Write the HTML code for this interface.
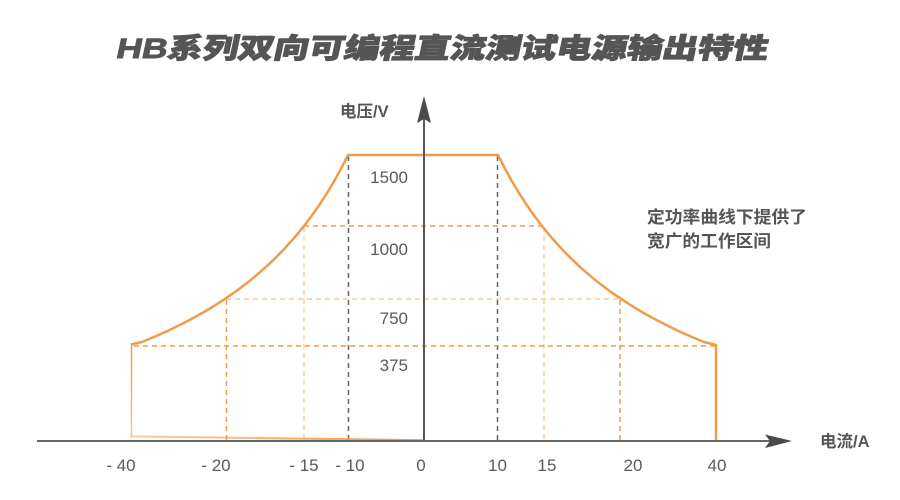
<!DOCTYPE html>
<html>
<head>
<meta charset="utf-8">
<style>
html,body{margin:0;padding:0;background:#fff;}
svg{display:block;}
</style>
</head>
<body>
<svg width="900" height="500" viewBox="0 0 900 500" xmlns="http://www.w3.org/2000/svg">
  <defs>
    <linearGradient id="bot" x1="131" y1="0" x2="424" y2="0" gradientUnits="userSpaceOnUse">
      <stop offset="0" stop-color="#F29A4A" stop-opacity="0.55"/>
      <stop offset="1" stop-color="#F29A4A" stop-opacity="1"/>
    </linearGradient>
    <linearGradient id="lv" x1="0" y1="344" x2="0" y2="436" gradientUnits="userSpaceOnUse">
      <stop offset="0" stop-color="#F29A4A" stop-opacity="1"/>
      <stop offset="1" stop-color="#F29A4A" stop-opacity="0.6"/>
    </linearGradient>
  </defs>

  <!-- Title -->
  <g transform="translate(115,58) skewX(-12)">
    <text x="0" y="0" font-family="'Liberation Sans','Noto Sans CJK SC',sans-serif" font-weight="900" font-size="28" fill="#555" stroke="#555" stroke-width="0.9" stroke-linejoin="round" textLength="652" lengthAdjust="spacingAndGlyphs">HB系列双向可编程直流测试电源输出特性</text>
  </g>

  <!-- dashed guide lines -->
  <g fill="none" stroke-width="1.5">
    <line x1="348.5" y1="156" x2="348.5" y2="440" stroke="#666" stroke-dasharray="5,4"/>
    <line x1="497.5" y1="156" x2="497.5" y2="440" stroke="#666" stroke-dasharray="5,4"/>
    <line x1="304" y1="226" x2="544" y2="226" stroke="#F29A4A" stroke-dasharray="5,4"/>
    <line x1="304" y1="227" x2="304" y2="440" stroke="#F9CDA5" stroke-dasharray="5,4"/>
    <line x1="544" y1="227" x2="544" y2="440" stroke="#F9CDA5" stroke-dasharray="5,4"/>
    <line x1="226" y1="299" x2="620" y2="299" stroke="#F9C9A0" stroke-dasharray="5,4"/>
    <line x1="226.5" y1="300" x2="226.5" y2="440" stroke="#F29A4A" stroke-dasharray="5,4"/>
    <line x1="620" y1="300" x2="620" y2="440" stroke="#F29A4A" stroke-dasharray="5,4"/>
    <line x1="134" y1="346" x2="716" y2="346" stroke="#F29A4A" stroke-dasharray="5,4"/>
  </g>

  <!-- main curve -->
  <polyline points="131,344.5 142,342 154,337 167,331.2 179,325.4 192,318.7 204,312 214,306 226,298.2 234,292.7 244,285.3 254,277.3 264,268.7 274,259.4 284,249.2 294,238.2 304,226 312,215.4 319,205.4 327,193.1 334,181.4 341,168.7 348,155 498,155 505,168.7 512,181.4 519,193.1 527,205.4 534,215.4 542,226 552,238.2 562,249.2 572,259.4 582,268.7 592,277.3 602,285.3 612,292.7 620,298.2 632,306 642,312 654,318.7 667,325.4 679,331.2 692,337 704,342 716,345 716,441" fill="none" stroke="#F29A4A" stroke-width="2.5" stroke-linejoin="round"/>
  <line x1="131.5" y1="344" x2="131.5" y2="437" stroke="url(#lv)" stroke-width="1.5"/>
  <polygon points="131,435.5 424,439.2 424,441.5 131,437.2" fill="url(#bot)"/>

  <!-- axes -->
  <line x1="37" y1="441" x2="770" y2="441" stroke="#666" stroke-width="2"/>
  <polygon points="792,441 765,434.5 770,441 765,448" fill="#4a4a4a"/>
  <line x1="424" y1="441" x2="424" y2="118" stroke="#555" stroke-width="2"/>
  <polygon points="424,96 417,123 424,119 431,123" fill="#4a4a4a"/>

  <!-- axis labels -->
  <text x="340" y="117" font-family="'Liberation Sans','Noto Sans CJK SC',sans-serif" font-weight="700" font-size="16.5" fill="#555">电压/V</text>
  <text x="820" y="447" font-family="'Liberation Sans','Noto Sans CJK SC',sans-serif" font-weight="700" font-size="16.5" fill="#555">电流/A</text>

  <!-- annotation -->
  <text x="647" y="223" font-family="'Liberation Sans','Noto Sans CJK SC',sans-serif" font-weight="700" font-size="17" fill="#555" textLength="160" lengthAdjust="spacingAndGlyphs">定功率曲线下提供了</text>
  <text x="647" y="247" font-family="'Liberation Sans','Noto Sans CJK SC',sans-serif" font-weight="700" font-size="17" fill="#555" textLength="124" lengthAdjust="spacingAndGlyphs">宽广的工作区间</text>

  <!-- y tick labels -->
  <g font-family="'Liberation Sans','DejaVu Sans',sans-serif" font-size="17" fill="#5a5a5a" text-anchor="end">
    <text x="408" y="183">1500</text>
    <text x="408" y="255">1000</text>
    <text x="408" y="324">750</text>
    <text x="408" y="371">375</text>
  </g>

  <!-- x tick labels -->
  <g font-family="'Liberation Sans','DejaVu Sans',sans-serif" font-size="17" fill="#5a5a5a" text-anchor="middle">
    <text x="121" y="471">- 40</text>
    <text x="216" y="471">- 20</text>
    <text x="304" y="471">- 15</text>
    <text x="350" y="471">- 10</text>
    <text x="421" y="471">0</text>
    <text x="497.5" y="471">10</text>
    <text x="547" y="471">15</text>
    <text x="633" y="471">20</text>
    <text x="717" y="471">40</text>
  </g>
</svg>
</body>
</html>
